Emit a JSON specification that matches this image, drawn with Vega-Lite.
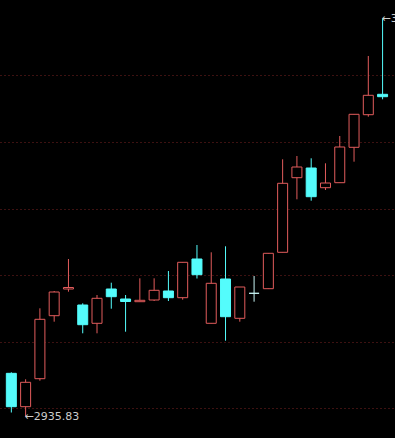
{
  "$schema": "https://vega.github.io/schema/vega-lite/v6.json",
  "width": 395,
  "height": 438,
  "autosize": {"type": "none"},
  "padding": 0,
  "background": "#000000",
  "config": {"view": {"stroke": null}},
  "datasets": {
    "candles": [
      {"i": 0, "open": 3000.58, "high": 3002.13, "low": 2941.83, "close": 2950.53},
      {"i": 1, "open": 2950.53, "high": 2991.63, "low": 2935.83, "close": 2987.13},
      {"i": 2, "open": 2992.53, "high": 3098.13, "low": 2989.53, "close": 3081.63},
      {"i": 3, "open": 3087.03, "high": 3124.08, "low": 3078.03, "close": 3122.58},
      {"i": 4, "open": 3127.08, "high": 3172.08, "low": 3123.03, "close": 3129.33},
      {"i": 5, "open": 3103.08, "high": 3105.63, "low": 3060.63, "close": 3073.53},
      {"i": 6, "open": 3075.63, "high": 3118.08, "low": 3060.63, "close": 3113.13},
      {"i": 7, "open": 3127.08, "high": 3136.53, "low": 3097.53, "close": 3115.53},
      {"i": 8, "open": 3112.08, "high": 3118.08, "low": 3063.03, "close": 3108.33},
      {"i": 9, "open": 3108.03, "high": 3143.13, "low": 3108.03, "close": 3110.13},
      {"i": 10, "open": 3110.58, "high": 3143.13, "low": 3109.08, "close": 3125.13},
      {"i": 11, "open": 3124.08, "high": 3154.08, "low": 3109.08, "close": 3114.03},
      {"i": 12, "open": 3114.03, "high": 3167.58, "low": 3111.03, "close": 3167.13},
      {"i": 13, "open": 3172.08, "high": 3193.08, "low": 3142.83, "close": 3148.53},
      {"i": 14, "open": 3075.63, "high": 3182.13, "low": 3075.63, "close": 3135.63},
      {"i": 15, "open": 3142.08, "high": 3191.13, "low": 3049.53, "close": 3085.53},
      {"i": 16, "open": 3083.13, "high": 3130.08, "low": 3078.03, "close": 3130.08},
      {"i": 17, "open": 3120.63, "high": 3146.58, "low": 3108.03, "close": 3120.63},
      {"i": 18, "open": 3127.53, "high": 3181.08, "low": 3127.08, "close": 3180.63},
      {"i": 19, "open": 3182.13, "high": 3321.63, "low": 3182.13, "close": 3285.63},
      {"i": 20, "open": 3294.03, "high": 3326.58, "low": 3261.63, "close": 3310.08},
      {"i": 21, "open": 3308.58, "high": 3323.13, "low": 3259.53, "close": 3265.53},
      {"i": 22, "open": 3279.03, "high": 3315.63, "low": 3275.58, "close": 3286.08},
      {"i": 23, "open": 3286.53, "high": 3356.58, "low": 3286.53, "close": 3340.08},
      {"i": 24, "open": 3339.63, "high": 3389.58, "low": 3318.03, "close": 3389.13},
      {"i": 25, "open": 3388.53, "high": 3476.58, "low": 3385.53, "close": 3417.63},
      {"i": 26, "open": 3419.13, "high": 3533.13, "low": 3411.63, "close": 3415.53}
    ],
    "labels": [
      {"i": 1, "price": 2934.5, "label": "←2935.83"},
      {"i": 26, "price": 3532.0, "label": "←3533.13"}
    ]
  },
  "layer": [
    {
      "data": {"name": "candles"},
      "mark": {"type": "rule", "strokeWidth": 1},
      "encoding": {
        "x": {"field": "i", "type": "quantitative", "scale": {"domain": [-0.444, 26.519], "nice": false, "zero": false}, "axis": null},
        "y": {"field": "low", "type": "quantitative", "scale": {"domain": [2903.58, 3560.58], "nice": false, "zero": false},
          "axis": {"values": [2948.6, 3047.6, 3148.1, 3247.8, 3347.6, 3448.1], "grid": true, "gridColor": "#7a2222", "gridDash": [1, 3], "gridWidth": 1, "gridOpacity": 1, "domain": false, "ticks": false, "labels": false, "title": null}},
        "y2": {"field": "high"},
        "color": {
          "condition": [
            {"test": "datum.close > datum.open", "value": "#e25c5c"},
            {"test": "datum.close < datum.open", "value": "#54fcfc"}
          ],
          "value": "#c8f4f4"
        }
      }
    },
    {
      "data": {"name": "candles"},
      "mark": {"type": "bar", "orient": "vertical", "size": 10, "strokeWidth": 1, "fillOpacity": 1},
      "encoding": {
        "x": {"field": "i", "type": "quantitative"},
        "y": {"field": "open", "type": "quantitative"},
        "y2": {"field": "close"},
        "fill": {
          "condition": [
            {"test": "datum.close > datum.open", "value": "#000000"},
            {"test": "datum.close < datum.open", "value": "#54fcfc"}
          ],
          "value": "#c8f4f4"
        },
        "stroke": {
          "condition": [
            {"test": "datum.close > datum.open", "value": "#e25c5c"},
            {"test": "datum.close < datum.open", "value": "#54fcfc"}
          ],
          "value": "#c8f4f4"
        }
      }
    },
    {
      "data": {"name": "labels"},
      "mark": {"type": "text", "align": "left", "baseline": "middle", "font": "DejaVu Sans", "fontSize": 11, "color": "#cccccc", "dx": -1},
      "encoding": {
        "x": {"field": "i", "type": "quantitative"},
        "y": {"field": "price", "type": "quantitative"},
        "text": {"field": "label"}
      }
    },
    {
      "mark": {"type": "rule", "color": "#a02828", "strokeWidth": 1},
      "encoding": {
        "y": {"datum": 2905.0, "type": "quantitative"}
      }
    }
  ]
}
